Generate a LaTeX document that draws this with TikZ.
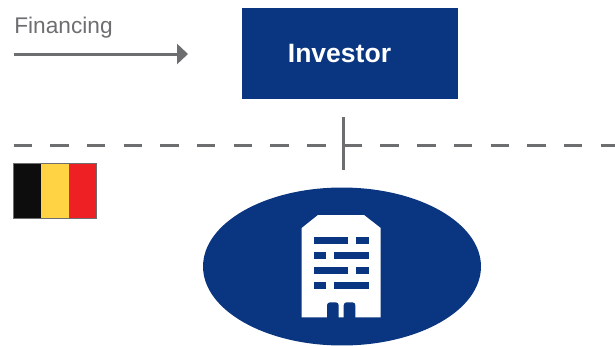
\documentclass[tikz,border=0pt]{standalone}
\usepackage{fontspec}
\setmainfont{Liberation Sans}
\usetikzlibrary{arrows.meta,shapes.geometric}
\definecolor{navy}{HTML}{0A3580}
\definecolor{linegray}{HTML}{6D6E70}
\definecolor{flagyellow}{HTML}{FFD344}
\definecolor{flagred}{HTML}{EF2024}
\tikzstyle{investorbox} = [rectangle, minimum width=4.32cm, minimum height=1.82cm, fill=navy, inner sep=0pt]
\tikzstyle{company} = [ellipse, minimum width=5.56cm, minimum height=3.16cm, fill=navy, inner sep=0pt]
\tikzstyle{greyline} = [draw=linegray, line width=0.06cm]
\tikzstyle{window} = [fill=navy]

\begin{document}
\begin{tikzpicture}[x=0.02cm,y=-0.02cm]
\useasboundingbox (0,0) rectangle (615,345);

\node (investor) [investorbox] at (350,53.5) {};
\node (investorlabel) [text=white, font=\bfseries\fontsize{15.1pt}{18pt}\selectfont] at (339.5,54) {Investor};
\node (company) [company] at (342,266.5) {};

% financing legend
\node (financing) [text=linegray, font=\fontsize{12.9pt}{15pt}\selectfont, anchor=base west, inner sep=0pt] at (14,33) {Financing};
\coordinate (arrowstart) at (14,54);
\coordinate (arrowend) at (188,54);
\draw [greyline, -{Triangle[length=0.22cm,width=0.4cm]}] (arrowstart) -- (arrowend);

% border and link
\coordinate (borderleft) at (13.5,145);
\coordinate (borderright) at (615,145);
\coordinate (linktop) at (343.5,117);
\coordinate (linkbottom) at (343.5,170);
\draw [greyline, dash pattern=on 0.37cm off 0.364cm] (borderleft) -- (borderright);
\draw [greyline] (linktop) -- (linkbottom);

% flag
\fill [black!95] (14,163) rectangle (41,218);
\fill [flagyellow] (41,163) rectangle (68.5,218);
\fill [flagred] (68.5,163) rectangle (96.5,218);
\draw [linegray, line width=0.02cm] (13.5,163) rectangle (96.5,218);

% building
\fill [white] (301.7,317.3) -- (301.7,228) -- (318,215) -- (364,215) -- (380.7,228) -- (380.7,317.3) -- cycle;
\foreach \y in {236.7,267} {
  \fill [window] (314,\y) rectangle (348.3,\y+7.4);
  \fill [window] (356,\y) rectangle (368.7,\y+7.4);
}
\foreach \y in {251.7,282} {
  \fill [window] (314,\y) rectangle (326.3,\y+7.4);
  \fill [window] (334,\y) rectangle (368.7,\y+7.4);
}
\foreach \x in {327,343.7} {
  \fill [window] (\x,318) -- (\x,305.3) arc (180:90:3 and -3) -- (\x+8.7,302.3) arc (90:0:3 and -3) -- (\x+11.7,318) -- cycle;
}
\end{tikzpicture}
\end{document}
